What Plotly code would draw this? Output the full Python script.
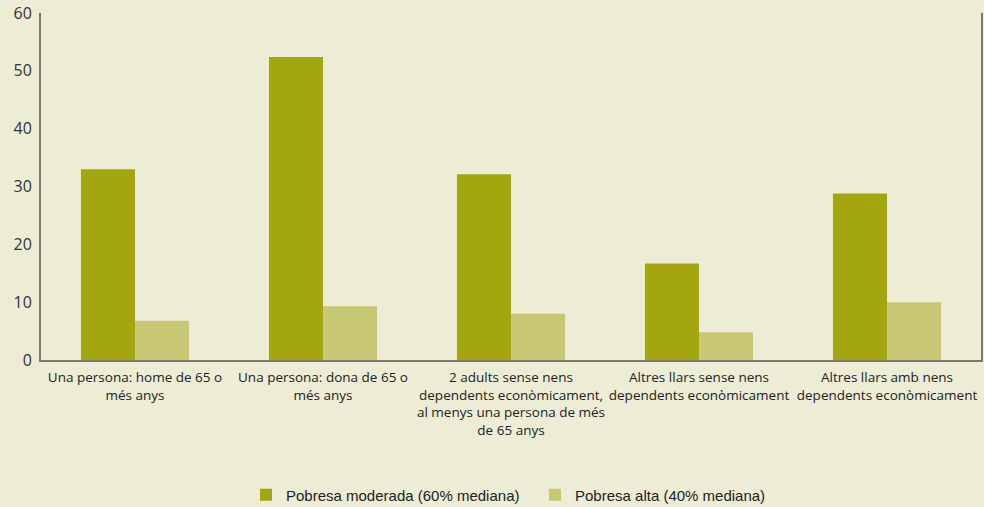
import plotly.graph_objects as go

categories = [
    "Una persona: home de 65 o<br>més anys",
    "Una persona: dona de 65 o<br>més anys",
    "2 adults sense nens<br>dependents econòmicament,<br>al menys una persona de més<br>de 65 anys",
    "Altres llars sense nens<br>dependents econòmicament",
    "Altres llars amb nens<br>dependents econòmicament",
]
moderada = [33.0, 52.4, 32.1, 16.7, 28.8]
alta = [6.8, 9.3, 8.0, 4.8, 10.0]
series_names = ["Pobresa moderada (60% mediana)", "Pobresa alta (40% mediana)"]
y_ticks = [0, 10, 20, 30, 40, 50, 60]

BG = "#EDEDD6"
fig = go.Figure()
fig.add_trace(go.Bar(x=categories, y=moderada, name=series_names[0], marker=dict(color="#A3A60F", line=dict(width=0))))
fig.add_trace(go.Bar(x=categories, y=alta, name=series_names[1], marker=dict(color="#C7C774", line=dict(width=0))))

fig.update_layout(
    width=984, height=507,
    paper_bgcolor=BG, plot_bgcolor=BG,
    margin=dict(l=41, r=3, t=13, b=147, autoexpand=False),
    barmode="group", bargap=0.425, bargroupgap=0,
    font=dict(family="Open Sans, Liberation Sans, sans-serif", color="#333333", size=13),
    legend=dict(orientation="h", x=246 / 984, xanchor="left", xref="container",
                y=12 / 507, yanchor="middle", yref="container",
                font=dict(family="Liberation Sans, Arial, sans-serif", size=15, color="#222222"),
                itemwidth=30, tracegroupgap=0, entrywidth=244, entrywidthmode="pixels"),
    showlegend=True,
)
fig.update_xaxes(showline=True, linecolor="#7a7a72", linewidth=2, ticks="", showgrid=False,
                 ticklabelstandoff=4, automargin=False,
                 tickfont=dict(size=13.5, family="Open Sans, sans-serif", color="#222222"))
fig.update_yaxes(range=[0, 60], tickvals=y_ticks, showline=True, mirror=True, linecolor="#7a7a72", linewidth=2,
                 ticks="", showgrid=False, zeroline=False, automargin=False, ticklabelstandoff=4,
                 tickfont=dict(size=16, family="Open Sans, sans-serif", color="#333333"))

fig.write_html("out.html", config={"displayModeBar": False},
               post_script="document.body.style.margin='0';document.body.style.background='%s';" % BG)
